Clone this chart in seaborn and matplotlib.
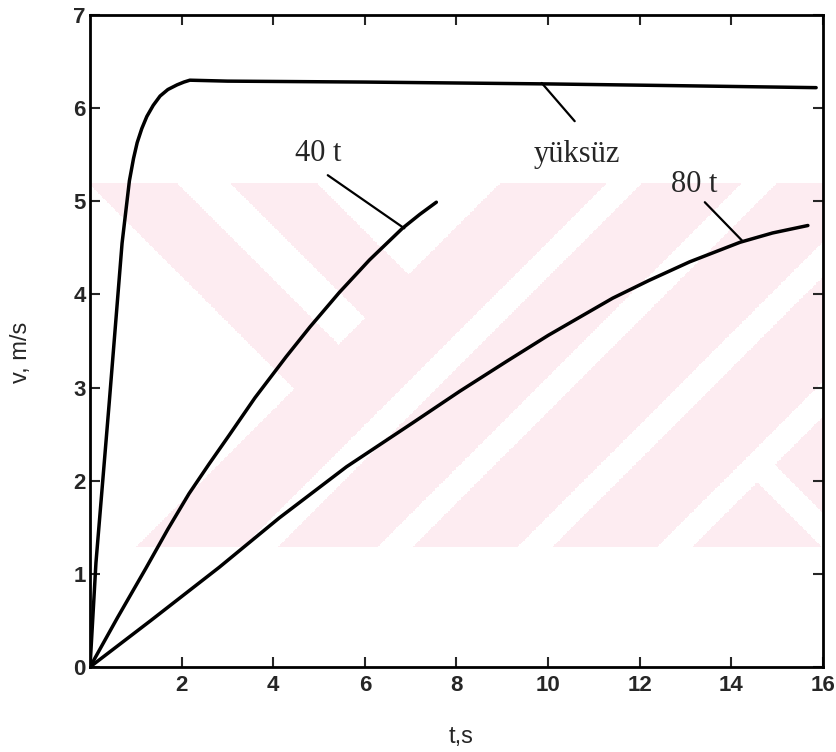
import numpy as np
import pandas as pd
import matplotlib
matplotlib.use('Agg')
import matplotlib.pyplot as plt
import seaborn as sns

# curves (t in s, v in m/s)
t_yuksuz = [0, 0.13, 0.42, 0.70, 0.86, 0.95, 1.03, 1.13, 1.24, 1.38, 1.53, 1.70, 1.90, 2.05, 2.18, 3.0, 6.0, 10.0, 13.0, 15.85]
v_yuksuz = [0, 1.12, 2.84, 4.55, 5.22, 5.46, 5.63, 5.78, 5.91, 6.03, 6.13, 6.20, 6.25, 6.28, 6.30, 6.29, 6.28, 6.26, 6.24, 6.22]

t_40 = [0, 0.60, 1.22, 1.70, 2.16, 2.60, 3.04, 3.60, 4.28, 4.80, 5.44, 6.10, 6.82, 7.20, 7.56]
v_40 = [0, 0.53, 1.06, 1.48, 1.86, 2.18, 2.49, 2.89, 3.33, 3.65, 4.02, 4.37, 4.71, 4.86, 4.99]

t_80 = [0, 1.33, 2.82, 4.13, 5.60, 7.04, 8.07, 9.09, 10.0, 11.41, 12.20, 13.09, 14.19, 14.90, 15.67]
v_80 = [0, 0.50, 1.07, 1.60, 2.15, 2.62, 2.96, 3.28, 3.56, 3.96, 4.15, 4.35, 4.56, 4.66, 4.74]

x_ticks = [2, 4, 6, 8, 10, 12, 14, 16]
y_ticks = [0, 1, 2, 3, 4, 5, 6, 7]

# curve labels: text, text position, leader line start/end
labels = ['40 t', 'yüksüz', '80 t']
label_t = [4.98, 10.62, 13.18]
label_v = [5.43, 5.42, 5.10]
leader_t0 = [5.19, 9.86, 13.42]
leader_v0 = [5.28, 6.27, 4.99]
leader_t1 = [6.86, 10.58, 14.23]
leader_v1 = [4.71, 5.86, 4.58]

df = pd.concat([
    pd.DataFrame({'t': t_yuksuz, 'v': v_yuksuz, 'load': 'yüksüz'}),
    pd.DataFrame({'t': t_40, 'v': v_40, 'load': '40 t'}),
    pd.DataFrame({'t': t_80, 'v': v_80, 'load': '80 t'}),
])

sns.set_style('ticks')
plt.rcParams['font.family'] = ['Liberation Sans', 'DejaVu Sans']

fig = plt.figure(figsize=(8.37, 7.52), dpi=100)
ax = fig.add_axes([90 / 837, 1 - 667 / 752, 733 / 837, 652 / 752])

# faint pink watermark of the scanned page (pixel geometry of the scan)
tg, vg = np.meshgrid(np.linspace(0, 16, 900), np.linspace(0, 7, 500))
px = 90 + tg * 733 / 16
py = 667 - vg * 652 / 7
s = px + py
d = px - py
left_part = s < 683
pink_left = left_part & (((d >= -95) & (d <= -6)) | ((d >= 47) & (d <= 134)))
gaps = np.zeros_like(s, dtype=bool)
for lo, hi in [(790, 825), (925, 960), (1065, 1100), (1205, 1240)]:
    gaps |= (s >= lo) & (s <= hi)
gaps |= (d >= 275) & (d <= 310) & (s > 1205)
pink_right = ~left_part & ~gaps
mask = (py >= 183) & (py <= 547) & (pink_left | pink_right)
img = np.ones(mask.shape + (4,))
img[..., :3] = np.array([253, 236, 241]) / 255
img[..., 3] = mask.astype(float)
ax.imshow(img, extent=[0, 16, 0, 7], origin='lower', aspect='auto', zorder=0, interpolation='nearest')

sns.lineplot(data=df, x='t', y='v', units='load', estimator=None, sort=False,
             color='black', linewidth=2.5, ax=ax, zorder=3)

for i in range(len(labels)):
    ax.plot([leader_t0[i], leader_t1[i]], [leader_v0[i], leader_v1[i]], color='black', linewidth=1.6, zorder=3)
    ax.text(label_t[i], label_v[i], labels[i], ha='center', va='baseline',
            fontsize=22, family='Liberation Serif', zorder=4)

ax.set_xlim(0, 16)
ax.set_ylim(0, 7)
ax.set_xticks(x_ticks)
ax.set_yticks(y_ticks)
ax.tick_params(direction='in', length=7, width=1.5, top=True, right=True,
               labelsize=16, pad=6)
ax.tick_params(axis='y', pad=3)
for lab in ax.get_xticklabels() + ax.get_yticklabels():
    lab.set_fontweight('bold')
for sp in ax.spines.values():
    sp.set_linewidth(2)
    sp.set_color('black')

ax.set_xlabel('t,s', fontsize=17)
ax.set_ylabel('v, m/s', fontsize=17)
ax.xaxis.set_label_coords((461 - 90) / 733, (667 - 737) / 652)
ax.xaxis.label.set_va('center')
ax.yaxis.set_label_coords((21 - 90) / 733, (667 - 352) / 652)
ax.yaxis.label.set_va('center')
ax.get_legend() and ax.get_legend().remove()

fig.savefig('out.png', dpi=100)
